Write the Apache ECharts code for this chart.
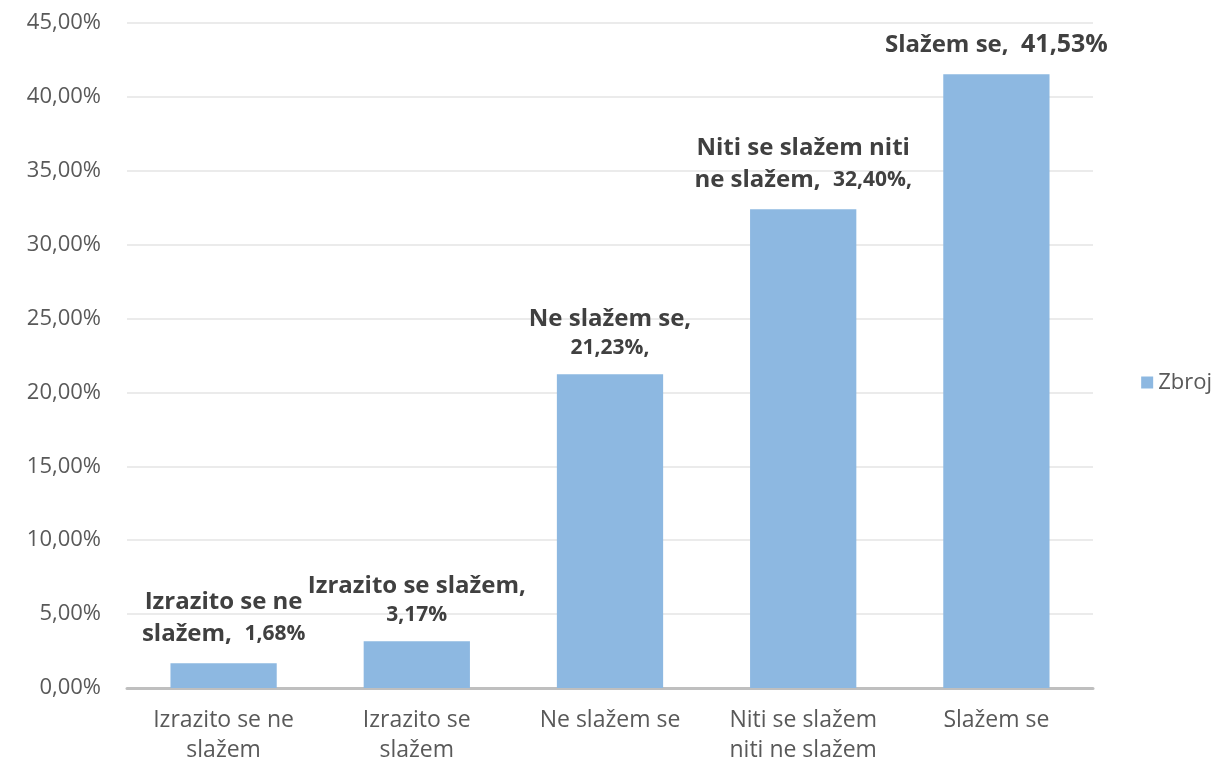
<!DOCTYPE html>
<html>
<head>
<meta charset="utf-8">
<script src="https://cdn.jsdelivr.net/npm/echarts@6/dist/echarts.min.js"></script>
<style>
html,body{margin:0;padding:0;background:#fff;}
#chart{width:1224px;height:765px;}
</style>
</head>
<body>
<div id="chart"></div>
<script>
const categories = ["Izrazito se ne\nslažem", "Izrazito se\nslažem", "Ne slažem se", "Niti se slažem\nniti ne slažem", "Slažem se"];
const values = [1.68, 3.17, 21.23, 32.40, 41.53];
const labelHeads = ["Izrazito se ne\nslažem,", "Izrazito se slažem,", "Ne slažem se,", "Niti se slažem niti\nne slažem,", "Slažem se,"];
const labelSeps = [" ", "\n", "\n", " ", " "];
const labelTails = ["", "", ",", ",", ""];
const seriesName = "Zbroj";
const yTicks = { min: 0, max: 45, interval: 5 };

const fmt = v => v.toFixed(2).replace('.', ',');
const chart = echarts.init(document.getElementById('chart'));
const FONT = '"Open Sans", sans-serif';

chart.setOption({
  animation: false,
  textStyle: { fontFamily: FONT },
  grid: { left: 127, right: 131, top: 23, bottom: 75, containLabel: false },
  legend: {
    right: 7, top: 'middle', orient: 'vertical',
    itemWidth: 12, itemHeight: 12, itemGap: 6,
    icon: 'rect',
    textStyle: { fontSize: 22, color: '#595959', fontFamily: FONT },
    data: [seriesName]
  },
  xAxis: {
    type: 'category',
    data: categories,
    axisLine: { lineStyle: { color: '#bfbfbf', width: 3 } },
    axisTick: { show: false },
    axisLabel: { fontSize: 23, color: '#595959', margin: 17, lineHeight: 30, interval: 0 }
  },
  yAxis: {
    type: 'value',
    min: yTicks.min, max: yTicks.max, interval: yTicks.interval,
    axisLine: { show: false },
    axisTick: { show: false },
    splitLine: { lineStyle: { color: '#ebebeb', width: 2 } },
    axisLabel: { fontSize: 22, color: '#595959', margin: 26, formatter: v => fmt(v) + '%' }
  },
  series: [{
    name: seriesName,
    type: 'bar',
    data: values,
    barWidth: '55%',
    itemStyle: { color: '#8db8e1' },
    label: {
      show: true,
      position: 'top',
      distance: 13,
      align: 'center',
      formatter: p => {
        const i = p.dataIndex;
        const valStyle = (i === values.length - 1) ? 'c' : 'b';
        const sep = labelSeps[i];
        const head = '{a|' + labelHeads[i] + (sep === ' ' ? '  ' : '') + '}';
        return head + (sep === '\n' ? '\n' : '') + '{' + valStyle + '|' + fmt(p.value) + '%' + labelTails[i] + '}';
      },
      rich: {
        a: { fontSize: 24, fontWeight: 'bold', color: '#404040', lineHeight: 32, fontFamily: FONT },
        b: { fontSize: 21, fontWeight: 'bold', color: '#404040', lineHeight: 26, fontFamily: FONT },
        c: { fontSize: 25, fontWeight: 'bold', color: '#404040', lineHeight: 32, fontFamily: FONT }
      }
    }
  }]
});
</script>
</body>
</html>
